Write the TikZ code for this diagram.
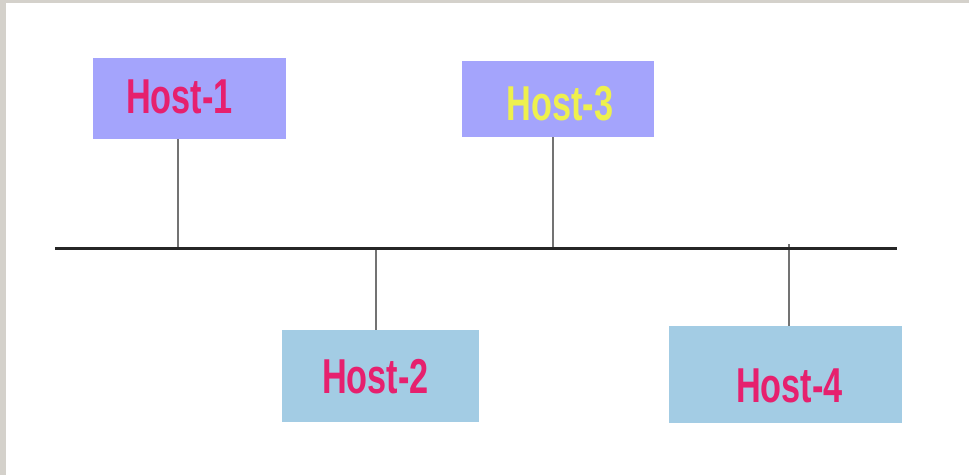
\documentclass[tikz,border=0pt]{standalone}
\usepackage{fontspec}
\newfontfamily\hostfont[FakeStretch=0.7]{Liberation Sans}
\usepackage{tikz}
\usetikzlibrary{positioning}
\definecolor{lavender}{HTML}{A4A4FC}
\definecolor{skyblue}{HTML}{A3CCE4}
\definecolor{hostpink}{HTML}{E6206E}
\definecolor{hostyellow}{HTML}{EEF04E}
\definecolor{frame}{HTML}{D4D1CB}
\tikzset{
hostbox/.style={draw=none, inner sep=0, text height=35pt, text depth=0pt, font={\hostfont\bfseries\fontsize{49pt}{49}\selectfont}},
drop/.style={line width=2pt, color=black!55},
bus/.style={line width=3pt, color=black!85}}

\begin{document}
\begin{tikzpicture}[x=1pt, y=-1pt]
    \useasboundingbox (0, 0) rectangle (969, 475);
    % frame at left and top
    \fill [frame] (0, 0) rectangle (6, 475);
    \fill [frame] (0, 0) rectangle (969, 3);

    % hosts
    \node [hostbox, fill=lavender, text=hostpink, minimum width=193pt, minimum height=81pt] (h1) at (189.5, 98.5) {\raisebox{3pt}{Host-1}\hspace*{20pt}};
    \node [hostbox, fill=lavender, text=hostyellow, minimum width=192pt, minimum height=76pt] (h3) at (558, 99) {\hspace*{4pt}\raisebox{-4pt}{Host-3}};
    \node [hostbox, fill=skyblue, text=hostpink, minimum width=197pt, minimum height=92pt] (h2) at (380.5, 376) {Host-2\hspace*{10pt}};
    \node [hostbox, fill=skyblue, text=hostpink, minimum width=233pt, minimum height=97pt] (h4) at (785.5, 374.5) {\hspace*{8pt}\raisebox{-10pt}{Host-4}};

    % bus ends
    \coordinate (busL) at (55, 248);
    \coordinate (busR) at (897, 248);
    % taps on the bus
    \coordinate (t1) at (178, 248);
    \coordinate (t2) at (376, 248);
    \coordinate (t3) at (553, 248);
    \coordinate (t4) at (789, 244);

    % drops
    \draw [drop] (t1) -- (t1 |- h1.south);
    \draw [drop] (t3) -- (t3 |- h3.south);
    \draw [drop] (t2) -- (t2 |- h2.north);
    \draw [drop] (t4) -- (t4 |- h4.north);
    % bus
    \draw [bus] (busL) -- (busR);
\end{tikzpicture}
\end{document}
